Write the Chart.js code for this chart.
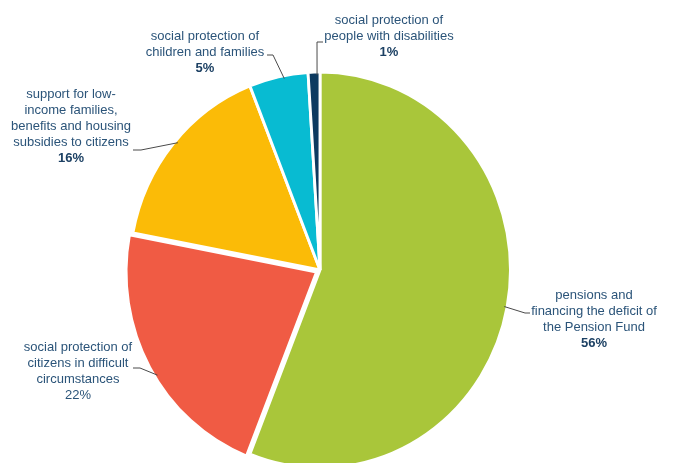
<!DOCTYPE html>
<html>
<head>
<meta charset="utf-8">
<script src="https://cdn.jsdelivr.net/npm/chart.js@4"></script>
<style>
    html, body { margin: 0; padding: 0; background: #ffffff; }
    #chart { display: block; }
</style>
</head>
<body>
<canvas id="chart" width="674" height="463"></canvas>
<script>
// Data
const categories = [
    ['pensions and', 'financing the deficit of', 'the Pension Fund'],
    ['social protection of', 'citizens in difficult', 'circumstances'],
    ['support for low-', 'income families,', 'benefits and housing', 'subsidies to citizens'],
    ['social protection of', 'children and families'],
    ['social protection of', 'people with disabilities']
];
const shares = [56, 22, 16, 5, 1];
const sliceColors = ['#a9c63a', '#f05b44', '#fbbb07', '#08bbd2', '#0d3a60'];

// the original pie is slightly narrower than it is tall
const squeezeX = 0.962;

// Label placement (center x, first line y, bold %, leader elbow & end, point on arc)
const labelLayout = [
    { cx: 594, y: 295, bold: true,  elbow: [525, 313], end: [530, 313], at: 0.5 },
    { cx: 78,  y: 347, bold: false, elbow: [140, 368], end: [133, 368], at: 0.46 },
    { cx: 71,  y: 94,  bold: true,  elbow: [141, 150], end: [133, 150], at: 0.52 },
    { cx: 205, y: 36,  bold: true,  elbow: [273, 55],  end: [267, 55],  at: 0.59 },
    { cx: 389, y: 20,  bold: true,  elbow: [317, 42],  end: [323, 42],  at: 0.75 }
];

const squeeze = {
    id: 'squeeze',
    beforeDatasetsDraw(chart) {
        const arc = chart.getDatasetMeta(0).data[0];
        const ctx = chart.ctx;
        ctx.save();
        ctx.translate(arc.x, arc.y);
        ctx.scale(squeezeX, 1);
        ctx.translate(-arc.x, -arc.y);
    },
    afterDatasetsDraw(chart) {
        chart.ctx.restore();
    }
};

const pieLabels = {
    id: 'pieLabels',
    afterDraw(chart) {
        const ctx = chart.ctx;
        const arcs = chart.getDatasetMeta(0).data;
        const offsets = chart.data.datasets[0].offset;
        ctx.save();
        arcs.forEach((arc, i) => {
            const lay = labelLayout[i];
            const p = arc.getProps(['x', 'y', 'startAngle', 'endAngle', 'outerRadius'], true);
            const a = p.startAngle + (p.endAngle - p.startAngle) * lay.at;
            const mid = (p.startAngle + p.endAngle) / 2;
            const shift = (offsets[i] || 0) / 4;
            const r = p.outerRadius - 3;
            const sx = p.x + (Math.cos(a) * r + Math.cos(mid) * shift) * squeezeX;
            const sy = p.y + Math.sin(a) * r + Math.sin(mid) * shift;

            // leader line
            ctx.strokeStyle = '#4a4a4a';
            ctx.lineWidth = 1;
            ctx.beginPath();
            ctx.moveTo(sx, sy);
            ctx.lineTo(lay.elbow[0], lay.elbow[1]);
            ctx.lineTo(lay.end[0], lay.end[1]);
            ctx.stroke();

            // text
            ctx.textAlign = 'center';
            ctx.textBaseline = 'middle';
            ctx.fillStyle = '#2b5479';
            ctx.font = '13px "Liberation Sans", Arial, sans-serif';
            const lines = categories[i];
            lines.forEach((t, k) => {
                ctx.fillText(t, lay.cx, lay.y + k * 16);
            });
            ctx.font = (lay.bold ? 'bold ' : '') + '13px "Liberation Sans", Arial, sans-serif';
            ctx.fillStyle = lay.bold ? '#1c4063' : '#2b5479';
            ctx.fillText(shares[i] + '%', lay.cx, lay.y + lines.length * 16);
        });
        ctx.restore();
    }
};

new Chart(document.getElementById('chart').getContext('2d'), {
    type: 'pie',
    data: {
        labels: categories.map(c => c.join(' ')),
        datasets: [{
            data: shares,
            backgroundColor: sliceColors,
            borderColor: '#ffffff',
            borderWidth: 3,
            offset: [0, 16, 0, 0, 0]
        }]
    },
    options: {
        responsive: false,
        animation: false,
        radius: 198,
        layout: {
            padding: { top: 77, bottom: 0, left: 100, right: 134 }
        },
        plugins: {
            legend: { display: false },
            tooltip: { enabled: false },
            title: { display: false }
        }
    },
    plugins: [squeeze, pieLabels]
});
</script>
</body>
</html>
